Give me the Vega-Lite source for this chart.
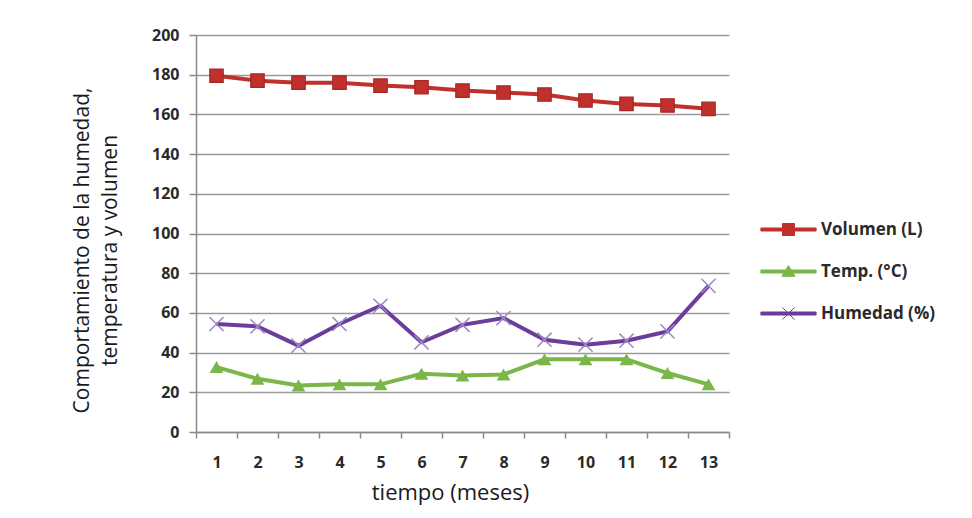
{
  "$schema": "https://vega.github.io/schema/vega-lite/v6.json",
  "width": 533,
  "height": 397,
  "autosize": "none",
  "padding": {"left": 196, "top": 35, "right": 243, "bottom": 86},
  "background": "white",
  "config": {
    "view": {"stroke": null},
    "font": "Open Sans",
    "axis": {"labelFont": "Open Sans", "titleFont": "Open Sans", "labelColor": "#2a2a2a", "titleColor": "#1a1a1a", "domainColor": "#8a8a8a", "tickColor": "#8a8a8a", "gridColor": "#9a9a9a", "domainWidth": 1.5, "tickWidth": 1.5, "gridWidth": 1.5}
  },
  "data": {"values": [
    {"mes": 1, "serie": "Volumen (L)", "valor": 179.5},
    {"mes": 2, "serie": "Volumen (L)", "valor": 177},
    {"mes": 3, "serie": "Volumen (L)", "valor": 176},
    {"mes": 4, "serie": "Volumen (L)", "valor": 176},
    {"mes": 5, "serie": "Volumen (L)", "valor": 174.5},
    {"mes": 6, "serie": "Volumen (L)", "valor": 173.7},
    {"mes": 7, "serie": "Volumen (L)", "valor": 172},
    {"mes": 8, "serie": "Volumen (L)", "valor": 171},
    {"mes": 9, "serie": "Volumen (L)", "valor": 170},
    {"mes": 10, "serie": "Volumen (L)", "valor": 167},
    {"mes": 11, "serie": "Volumen (L)", "valor": 165.3},
    {"mes": 12, "serie": "Volumen (L)", "valor": 164.5},
    {"mes": 13, "serie": "Volumen (L)", "valor": 162.8},
    {"mes": 1, "serie": "Temp. (°C)", "valor": 32.7},
    {"mes": 2, "serie": "Temp. (°C)", "valor": 26.8},
    {"mes": 3, "serie": "Temp. (°C)", "valor": 23.4},
    {"mes": 4, "serie": "Temp. (°C)", "valor": 24},
    {"mes": 5, "serie": "Temp. (°C)", "valor": 24},
    {"mes": 6, "serie": "Temp. (°C)", "valor": 29.3},
    {"mes": 7, "serie": "Temp. (°C)", "valor": 28.5},
    {"mes": 8, "serie": "Temp. (°C)", "valor": 29},
    {"mes": 9, "serie": "Temp. (°C)", "valor": 36.6},
    {"mes": 10, "serie": "Temp. (°C)", "valor": 36.6},
    {"mes": 11, "serie": "Temp. (°C)", "valor": 36.6},
    {"mes": 12, "serie": "Temp. (°C)", "valor": 29.7},
    {"mes": 13, "serie": "Temp. (°C)", "valor": 24},
    {"mes": 1, "serie": "Humedad (%)", "valor": 54.4},
    {"mes": 2, "serie": "Humedad (%)", "valor": 53.2},
    {"mes": 3, "serie": "Humedad (%)", "valor": 43.5},
    {"mes": 4, "serie": "Humedad (%)", "valor": 54.4},
    {"mes": 5, "serie": "Humedad (%)", "valor": 63.6},
    {"mes": 6, "serie": "Humedad (%)", "valor": 45.2},
    {"mes": 7, "serie": "Humedad (%)", "valor": 54},
    {"mes": 8, "serie": "Humedad (%)", "valor": 57.4},
    {"mes": 9, "serie": "Humedad (%)", "valor": 46.5},
    {"mes": 10, "serie": "Humedad (%)", "valor": 44},
    {"mes": 11, "serie": "Humedad (%)", "valor": 46},
    {"mes": 12, "serie": "Humedad (%)", "valor": 50.7},
    {"mes": 13, "serie": "Humedad (%)", "valor": 73.6}
  ]},
  "encoding": {
    "x": {"field": "mes", "type": "ordinal", "sort": "ascending",
      "scale": {"paddingInner": 0, "paddingOuter": 0},
      "axis": {"title": "tiempo (meses)", "labelAngle": 0, "tickBand": "extent", "grid": false, "labelFontSize": 16, "labelFontWeight": "bold", "titleFontSize": 22, "titleFontWeight": "normal", "labelPadding": 16, "tickSize": 6, "titlePadding": 12, "titleX": 254}},
    "y": {"field": "valor", "type": "quantitative",
      "scale": {"domain": [0, 200], "nice": false},
      "axis": {"title": ["Comportamiento  de la humedad,", "temperatura y volumen"], "values": [0,20,40,60,80,100,120,140,160,180,200], "labelFontSize": 16, "labelFontWeight": "bold", "titleFontSize": 21, "titleFontWeight": "normal", "tickSize": 7, "labelPadding": 10, "titlePadding": 31, "titleLineHeight": 28, "titleY": 215, "domain": true}}
  },
  "layer": [
    {
      "mark": {"type": "line", "strokeWidth": 4},
      "encoding": {
        "color": {"field": "serie", "type": "nominal",
          "scale": {"domain": ["Volumen (L)", "Temp. (°C)", "Humedad (%)"], "range": ["#c0302c", "#7ab648", "#6a3d9a"]},
          "legend": {"title": null, "orient": "none", "legendX": 584, "legendY": 186, "labelFont": "Open Sans", "labelFontSize": 17, "labelFontWeight": "bold", "labelColor": "#2a2a2a", "symbolSize": 144, "labelOffset": 24, "rowPadding": 24,
            "encode": {"symbols": {"update": {
              "shape": {"signal": "datum.value === 'Volumen (L)' ? 'M-4.6,-0.25H4.6V0.25H-4.6Z M-1,-1H1V1H-1Z' : datum.value === 'Temp. (°C)' ? 'M-4.6,-0.25H4.6V0.25H-4.6Z M0,-1L1.1,0.8L-1.1,0.8Z' : 'M-4.6,-0.25H4.6V0.25H-4.6Z M-1,-1L1,1 M-1,1L1,-1'"},
              "fill": {"signal": "scale('color', datum.value)"},
              "stroke": {"signal": "datum.value === 'Humedad (%)' ? '#9a88c8' : scale('color', datum.value)"},
              "strokeWidth": {"value": 1},
              "opacity": {"value": 1},
              "fillOpacity": {"value": 1}
            }}}}
        },
        "detail": {"field": "serie"}
      }
    },
    {
      "transform": [{"filter": "datum.serie === 'Volumen (L)'"}],
      "mark": {"type": "point", "shape": "square", "filled": true, "opacity": 1, "color": "#c0302c", "stroke": "#a82624", "strokeWidth": 1.2, "size": 180}
    },
    {
      "transform": [{"filter": "datum.serie === 'Temp. (°C)'"}],
      "mark": {"type": "point", "shape": "triangle-up", "filled": true, "opacity": 1, "color": "#7ab648", "size": 190}
    },
    {
      "transform": [{"filter": "datum.serie === 'Humedad (%)'"}],
      "mark": {"type": "point", "shape": "M-1,-1L1,1M-1,1L1,-1", "filled": false, "opacity": 1, "color": "#9a88c8", "strokeWidth": 1.5, "size": 200}
    }
  ]
}
